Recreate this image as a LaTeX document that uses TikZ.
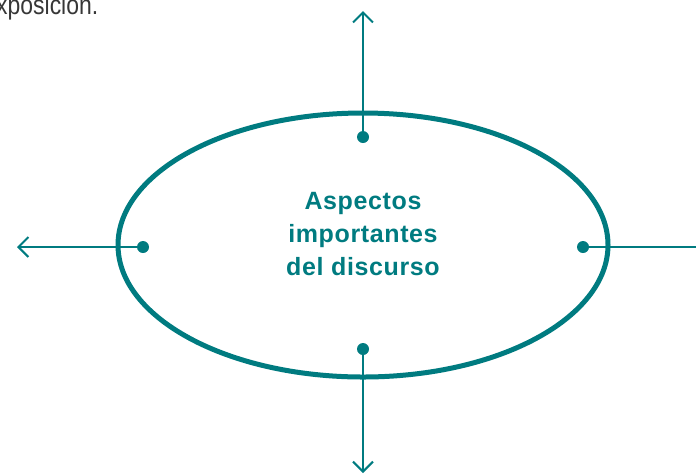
\documentclass[tikz,border=0pt]{standalone}
\usepackage{fontspec}
\setmainfont{Liberation Sans}
\newfontfamily\labfont[LetterSpace=2.5]{Liberation Sans}
\newfontfamily\topfont[FakeStretch=0.85]{Liberation Sans}
\usetikzlibrary{shapes.geometric,arrows.meta}
\definecolor{teal1}{RGB}{0,123,128}
\definecolor{gray1}{RGB}{55,55,55}
\tikzset{
  oval/.style={draw=teal1, line width=5pt, ellipse, minimum width=490pt, minimum height=264pt, inner sep=0pt},
  dotnode/.style={circle, fill=teal1, minimum size=12pt, inner sep=0pt},
  arr/.style={draw=teal1, line width=2pt, -{Straight Barb[length=10pt,width=20pt,line width=2pt]}},
  plain/.style={draw=teal1, line width=2pt},
  lab/.style={text=teal1, align=center, font=\labfont\bfseries\fontsize{25}{33}\selectfont},
}
\begin{document}
\begin{tikzpicture}[x=1pt,y=-1pt]
\useasboundingbox (0,0) rectangle (696,475);
\node[anchor=base west, inner sep=0pt, text=gray1, font=\topfont\fontsize{27}{30}\selectfont] (ex) at (-4,14) {xposición.};
\node[oval] (ov) at (363,245) {};
\node[lab] (txt) at (363,234) {Aspectos\\importantes\\del discurso};
\node[dotnode] (dt) at (363,137) {};
\node[dotnode] (db) at (363,349) {};
\node[dotnode] (dl) at (143,247) {};
\node[dotnode] (dr) at (583,247) {};
\coordinate (et) at (363,11);
\coordinate (eb) at (363,473);
\coordinate (el) at (17,247);
\coordinate (er) at (700,247);
\draw[arr] (dt.center) -- (et);
\draw[arr] (db.center) -- (eb);
\draw[arr] (dl.center) -- (el);
\draw[plain] (dr.center) -- (er);
\end{tikzpicture}
\end{document}
